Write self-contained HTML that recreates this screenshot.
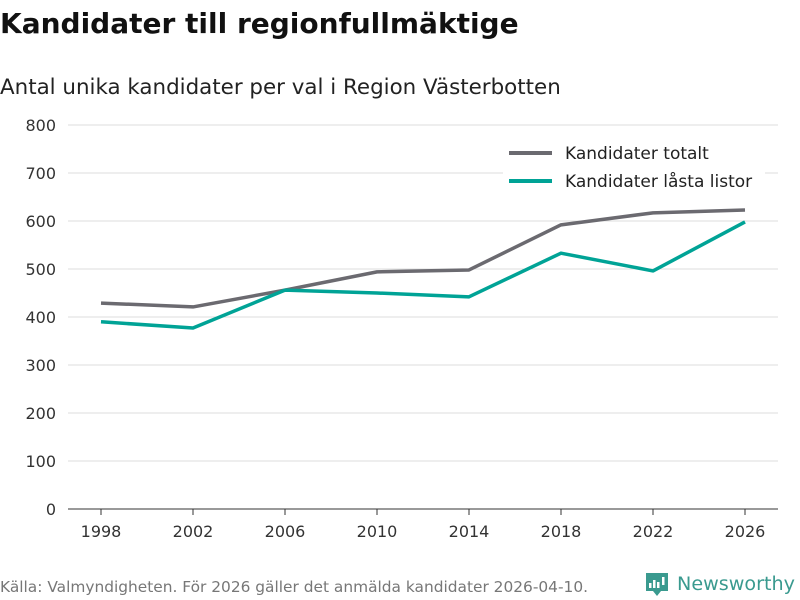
<!DOCTYPE html>
<html><head><meta charset="utf-8"><style>
body{margin:0;width:800px;height:600px;background:#fff;overflow:hidden;font-family:"DejaVu Sans","Liberation Sans",sans-serif;}
</style></head><body>
<svg width="800" height="600" style="position:absolute;left:0;top:0" font-family="DejaVu Sans, Liberation Sans, sans-serif">
<text x="0" y="33" font-size="28" font-weight="bold" fill="#111">Kandidater till regionfullmäktige</text>
<text x="0" y="94" font-size="21.4" fill="#222">Antal unika kandidater per val i Region Västerbotten</text>
<g id="grid"></g><g id="xax"></g><g id="lines"></g>
<g>
<rect x="503" y="138" width="262" height="58" fill="#fff"/>
<line x1="509" y1="153" x2="552" y2="153" stroke="#6b6a70" stroke-width="4"/>
<text x="565" y="159" font-size="17" fill="#222">Kandidater totalt</text>
<line x1="509" y1="181" x2="552" y2="181" stroke="#00a396" stroke-width="4"/>
<text x="565" y="187" font-size="17" fill="#222">Kandidater låsta listor</text>
</g>
<text x="0" y="592" font-size="15.4" fill="#777">Källa: Valmyndigheten. För 2026 gäller det anmälda kandidater 2026-04-10.</text>
<g>
<path d="M646 573h22v18h-7l-4 5-4-5h-7z" fill="#3a9a8f"/>
<rect x="649" y="583" width="2.5" height="5" fill="#fff"/><rect x="653" y="580" width="2.5" height="8" fill="#fff"/><rect x="657" y="582" width="2.5" height="6" fill="#fff"/><rect x="662" y="577" width="2.5" height="8" fill="#fff"/>
<text x="677" y="590" font-size="18.5" fill="#3a9a8f" textLength="118" lengthAdjust="spacingAndGlyphs">Newsworthy</text>
</g>
</svg>
<script>
const years=[1998,2002,2006,2010,2014,2018,2022,2026];
const totalt=[429,421,456,494,498,592,617,623];
const lasta=[390,377,456,450,442,533,496,598];
const yTicks=[0,100,200,300,400,500,600,700,800];
const NS="http://www.w3.org/2000/svg";
const x=v=>101+(v-1998)*23;
const y=v=>509-v*0.48;
function mk(t,a,p){const e=document.createElementNS(NS,t);for(const k in a)e.setAttribute(k,a[k]);p.appendChild(e);return e;}
const g=document.getElementById('grid');
yTicks.forEach(t=>{
 const l=mk('line',{x1:68,x2:778,y1:y(t),y2:y(t),stroke:t===0?'#333':'#ddd','stroke-width':1},g);
 
 
 const tx=mk('text',{x:56,y:y(t)+6,'font-size':16,fill:'#333','text-anchor':'end'},g);
 tx.textContent=t;
 
 
});
const xa=document.getElementById('xax');
years.forEach(yr=>{
 const tk=mk('line',{x1:x(yr),x2:x(yr),y1:509,y2:515,stroke:'#333'},xa);
 
 
 const tx=mk('text',{x:x(yr),y:537,'font-size':16,fill:'#333','text-anchor':'middle'},xa);
 tx.textContent=yr;
 
 
});
const lg=document.getElementById('lines');
[[totalt,'#6b6a70','line-totalt'],[lasta,'#00a396','line-lasta']].forEach(([d,c,n])=>{
 const p=mk('polyline',{points:d.map((v,i)=>x(years[i])+','+y(v)).join(' '),fill:'none',stroke:c,'stroke-width':3.5,'stroke-linejoin':'round'},lg);
 
 
});
</script>
</body></html>
